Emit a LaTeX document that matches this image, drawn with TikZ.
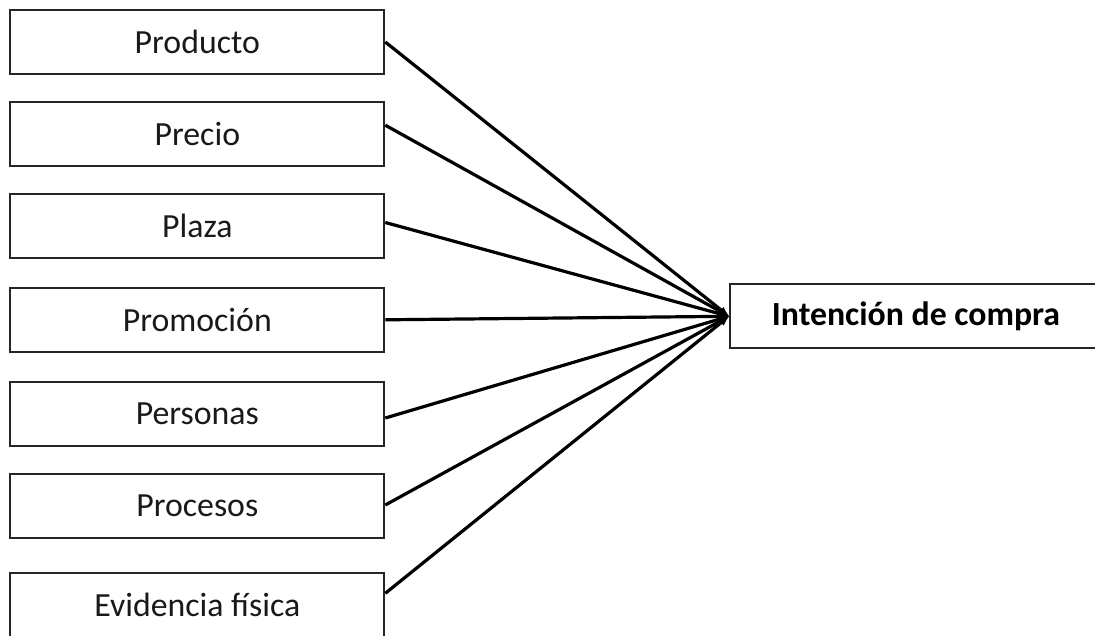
\documentclass[tikz,border=0pt]{standalone}
\usepackage{fontspec}
\setmainfont{Carlito}
\usetikzlibrary{arrows.meta}
\begin{document}
\begin{tikzpicture}[x=1pt,y=-1pt,
  factor/.style={draw=black!85, line width=2pt, minimum width=374pt, minimum height=64pt,
    inner sep=0pt, font=\fontsize{33.8}{40}\selectfont, text=black!90},
  result/.style={draw=black!85, line width=2pt, minimum width=390pt, minimum height=64pt,
    inner sep=0pt, font=\fontsize{33.8}{40}\selectfont\bfseries},
  link/.style={line width=3.2pt, -{Latex[length=11pt,width=8pt]}, shorten >=-1pt}]
  \useasboundingbox (0,0) rectangle (1095,635);
  \clip (0,0) rectangle (1095,635);
  \fill[white] (0,0) rectangle (1095,635);

  % marketing-mix factors
  \node[factor] (prod) at (197.3,42)    {Producto};
  \node[factor] (prec) at (197.3,133.7) {Precio};
  \node[factor] (plaz) at (197.3,226.3) {Plaza};
  \node[factor] (prom) at (197.3,320.3) {Promoción};
  \node[factor] (pers) at (197.3,413.7) {Personas};
  \node[factor] (proc) at (197.3,505.5) {Procesos};
  \node[factor] (evid) at (197.3,604.7) {Evidencia física};

  % outcome, running past the right edge
  \node[result, anchor=west] (inte) at (729,316.3) {};
  \node[font=\fontsize{33.8}{40}\selectfont\bfseries, inner sep=0pt] (intet) at (916,316.3) {Intención de compra};

  % links
  \draw[link] (prod.east) -- (inte.west);
  \draw[link] ([yshift=8.5pt]prec.east) -- (inte.west);
  \draw[link] ([yshift=3.8pt]plaz.east) -- (inte.west);
  \draw[link] ([yshift=0.5pt]prom.east) -- (inte.west);
  \draw[link] ([yshift=-4.3pt]pers.east) -- (inte.west);
  \draw[link] ([yshift=0.5pt]proc.east) -- (inte.west);
  \draw[link] ([yshift=11.4pt]evid.east) -- (inte.west);
\end{tikzpicture}
\end{document}
